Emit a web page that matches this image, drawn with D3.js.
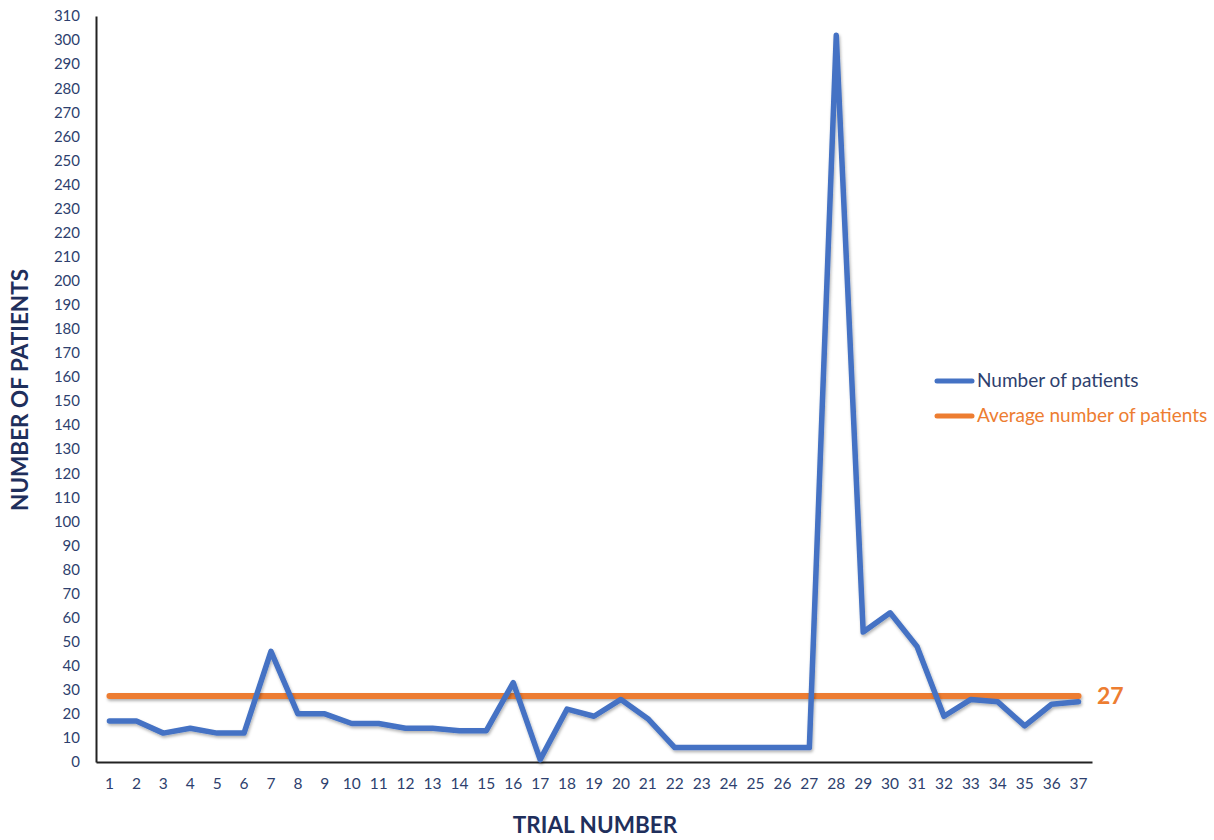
<!DOCTYPE html>
<html><head><meta charset="utf-8">
<script src="https://cdn.jsdelivr.net/npm/d3@7"></script>
<style>body{margin:0;background:#fff;} svg{display:block;}</style>
</head><body>
<svg id="chart" width="1214" height="840"></svg>
<script>
const trials = d3.range(1, 38).map(String);
const patients = [17,17,12,14,12,12,46,20,20,16,16,14,14,13,13,33,1,22,19,26,18,6,6,6,6,6,6,302,54,62,48,19,26,25,15,24,25];
const averagePatients = 27;
const yTicks = d3.range(0, 311, 10);
const seriesNames = ["Number of patients", "Average number of patients"];

const svg = d3.select("#chart");
const navy = "#2e3f6e", blue = "#4472C4", orange = "#ED7D31";
const font = "Lato, 'Open Sans', sans-serif";

const x = d3.scaleBand().domain(trials).range([96, 1092]);
const y = d3.scaleLinear().domain([0, 310]).range([762, 16]);

const defs = svg.append("defs");
const f = defs.append("filter").attr("id","sh").attr("filterUnits","userSpaceOnUse")
  .attr("x",0).attr("y",0).attr("width",1214).attr("height",840);
f.append("feDropShadow").attr("dx",1).attr("dy",2).attr("stdDeviation",1.5).attr("flood-color","#000").attr("flood-opacity",0.3);

// axes
const xAxis = svg.append("g").attr("transform","translate(0,762)")
  .call(d3.axisBottom(x).tickSize(0).tickPadding(16));
xAxis.select(".domain").attr("stroke","#222").attr("stroke-width",2);
xAxis.selectAll("text").attr("font-family",font).attr("font-size",15.5).attr("fill",navy);

const yAxis = svg.append("g").attr("transform","translate(96,0)")
  .call(d3.axisLeft(y).tickValues(yTicks).tickSize(0).tickPadding(16));
yAxis.select(".domain").attr("stroke","#222").attr("stroke-width",2);
yAxis.selectAll("text").attr("font-family",font).attr("font-size",15).attr("fill",navy);

const cx = d => x(d) + x.bandwidth()/2;

// average line
svg.append("line")
  .attr("x1", cx(trials[0])).attr("x2", cx(trials[trials.length-1]))
  .attr("y1", y(averagePatients) - 1).attr("y2", y(averagePatients) - 1)
  .attr("stroke", orange).attr("stroke-width", 6).attr("stroke-linecap","round")
  .attr("filter","url(#sh)");

// patient line
const line = d3.line().x((d,i)=>cx(trials[i])).y(d=>y(d));
svg.append("path").datum(patients).attr("d", line)
  .attr("fill","none").attr("stroke", blue).attr("stroke-width", 5.5)
  .attr("stroke-linejoin","round").attr("stroke-linecap","round")
  .attr("filter","url(#sh)");

svg.append("text").attr("x", 1097).attr("y", y(averagePatients)+7)
  .attr("font-family",font).attr("font-weight","bold").attr("font-size",23)
  .attr("fill",orange).text(averagePatients);

// titles
svg.append("text").attr("x", 595).attr("y", 833).attr("text-anchor","middle")
  .attr("font-family",font).attr("font-weight","bold").attr("font-size",22.5)
  .attr("fill","#1f2f5c").text("TRIAL NUMBER");
svg.append("text").attr("transform","translate(28,390) rotate(-90)").attr("text-anchor","middle")
  .attr("font-family",font).attr("font-weight","bold").attr("font-size",22.5)
  .attr("fill","#1f2f5c").text("NUMBER OF PATIENTS");

// legend
const lg = svg.append("g");
[blue, orange].forEach((c,i) => {
  const yy = 381 + i*35;
  lg.append("line").attr("x1",937).attr("x2",972).attr("y1",yy).attr("y2",yy)
    .attr("stroke",c).attr("stroke-width",5).attr("stroke-linecap","round");
  lg.append("text").attr("x",977).attr("y",yy+6)
    .attr("font-family",font).attr("font-size",19)
    .attr("fill", i===0 ? navy : orange).text(seriesNames[i]);
});
</script>
</body></html>
